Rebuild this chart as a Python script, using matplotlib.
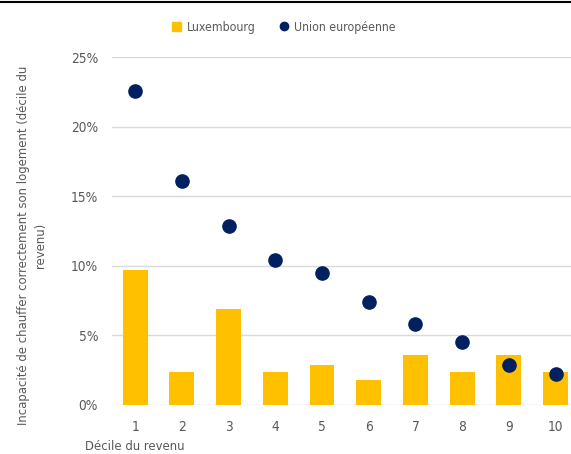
import numpy as np
import matplotlib.pyplot as plt
from matplotlib.lines import Line2D
from matplotlib.patches import Patch

deciles = [1, 2, 3, 4, 5, 6, 7, 8, 9, 10]
luxembourg = [9.7, 2.4, 6.9, 2.4, 2.9, 1.8, 3.6, 2.4, 3.6, 2.4]
union_europeenne = [22.6, 16.1, 12.9, 10.45, 9.5, 7.4, 5.8, 4.5, 2.85, 2.2]
yticks = [0, 5, 10, 15, 20, 25]

plt.rcParams['font.family'] = ['DejaVu Sans']
plt.rcParams['font.stretch'] = 'condensed'
grey = "#595959"
yellow = "#FFC000"
navy = "#002060"

fig = plt.figure(figsize=(5.71, 4.54), dpi=100)
ax = fig.add_axes([0.196, 0.108, 0.804, 0.766])

x = np.array(deciles)
ax.bar(x, luxembourg, width=0.53, color=yellow, zorder=2)
ax.plot(x, union_europeenne, "o", color=navy, markersize=9.5, zorder=3)

ax.set_xlim(0.503, 10.33)
ax.set_ylim(0, 25)
ax.set_yticks(yticks)
ax.set_yticklabels([f"{v}%" for v in yticks])
ax.set_xticks(x)
ax.tick_params(length=0, labelsize=9.8, colors=grey, pad=10)
ax.tick_params(axis="x", pad=11)
ax.grid(axis="y", color="#d9d9d9", linewidth=1, zorder=0)
ax.set_axisbelow(True)
for s in ax.spines.values():
    s.set_visible(False)

fig.text(0.056, 0.46, "Incapacité de chauffer correctement son logement (décile du\nrevenu)",
         rotation=90, ha="center", va="center", fontsize=9.4, color=grey,
         linespacing=1.4)
fig.text(0.149, 0.017, "Décile du revenu", ha="left", va="center", fontsize=9.4, color=grey)

handles = [Patch(color=yellow), Line2D([], [], marker="o", linestyle="", color=navy, markersize=6)]
fig.legend(handles, ["Luxembourg", "Union européenne"], loc="center", ncol=2,
           bbox_to_anchor=(0.497, 0.94), frameon=False, fontsize=8.8,
           labelcolor=grey, handlelength=0.8, handleheight=0.8, handletextpad=0.4,
           columnspacing=2.0)

fig.add_artist(Line2D([0, 1], [0.995, 0.995], color="black", linewidth=1.5,
                      transform=fig.transFigure))

fig.savefig("out.png", dpi=100)
